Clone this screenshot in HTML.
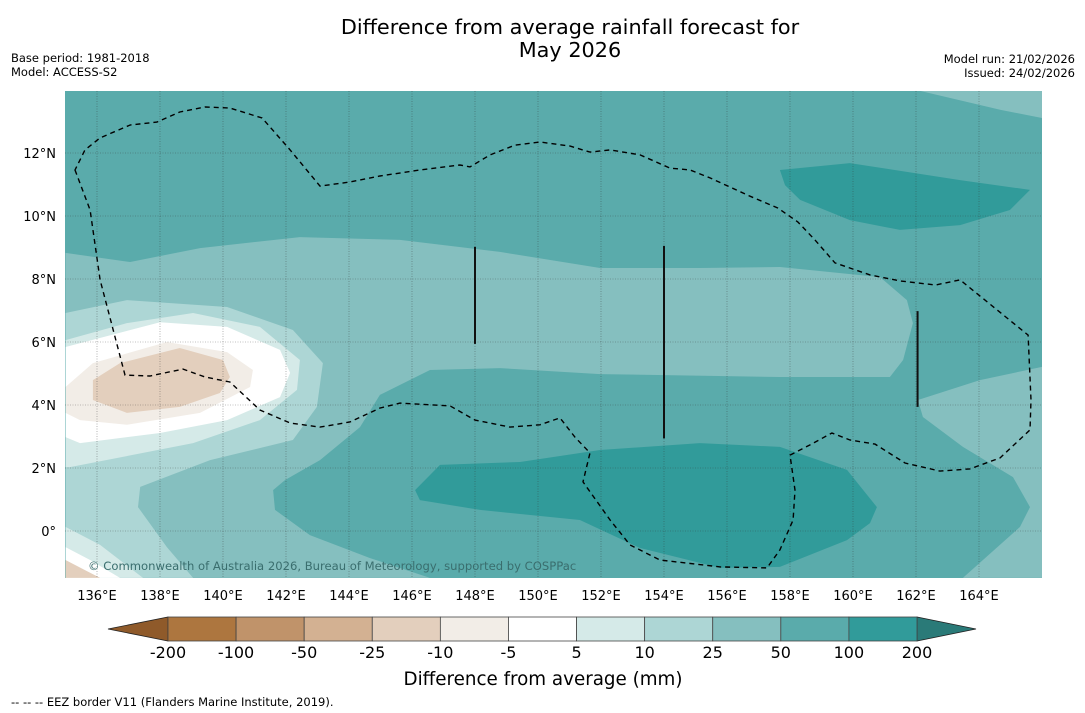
<!DOCTYPE html>
<html><head><meta charset="utf-8"><style>
body{margin:0;background:#fff;width:1085px;height:713px;overflow:hidden;font-family:"DejaVu Sans","Liberation Sans",sans-serif}
svg{display:block}
</style></head><body>
<svg id="chart" width="1085" height="713" viewBox="0 0 1085 713" xmlns="http://www.w3.org/2000/svg" font-family="DejaVu Sans, Liberation Sans, sans-serif">
<text x="570" y="34" font-size="20.8" text-anchor="middle">Difference from average rainfall forecast for</text>
<text x="570" y="57" font-size="20.8" text-anchor="middle">May 2026</text>
<text x="11" y="62" font-size="11.5">Base period: 1981-2018</text>
<text x="11" y="76" font-size="11.5">Model: ACCESS-S2</text>
<text x="1075" y="63" font-size="11.5" text-anchor="end">Model run: 21/02/2026</text>
<text x="1075" y="77" font-size="11.5" text-anchor="end">Issued: 24/02/2026</text>
<defs><clipPath id="mapclip"><rect x="65" y="91" width="977" height="487"/></clipPath></defs>
<g id="map" clip-path="url(#mapclip)"></g>
<g id="axes"></g>
<g id="cbar"></g>
<text x="543" y="685" font-size="18.3" text-anchor="middle">Difference from average (mm)</text>
<text x="11" y="706" font-size="11.5">--  --  -- EEZ border V11 (Flanders Marine Institute, 2019).</text>
</svg>
<script>
const NS="http://www.w3.org/2000/svg";
const lonTicks=[136,138,140,142,144,146,148,150,152,154,156,158,160,162,164];
const latTicks=[0,2,4,6,8,10,12];
const levelLabels=["-200","-100","-50","-25","-10","-5","5","10","25","50","100","200"];
const levelColors=["#8f5a2a","#ad763f","#c0936a","#d3b192","#e3cfbd","#f2ede7","#ffffff","#d5eae8","#add6d5","#85bfbf","#5aabab","#319b9a","#2a7a78"];
const c25_50=[[135,8.83],[137.05,8.54],[139.27,8.98],[142.44,9.33],[145.62,9.24],[148.79,8.86],[151.97,8.35],[155.14,8.35],[157.68,8.38],[160.86,8.06],[161.71,7.33],[161.9,6.6],[161.59,5.43],[161.17,4.89],[157.68,4.89],[151.97,4.98],[148.79,5.17],[146.57,5.11],[144.98,4.32],[144.35,3.3],[143.08,2.25],[141.97,1.62],[141.59,1.3],[141.65,0.67],[142.76,-0.13],[144.67,-0.86],[146.57,-1.49],[135,-1.49]];
const c25_50_ne=[[162.13,13.97],[164.67,13.37],[166,13.11],[166,13.97]];
const c25_50_se=[[162.06,4.16],[164.03,4.79],[166,5.21],[166,-1.49],[163.49,-1.49],[165.3,0.13],[165.62,0.76],[165.08,1.71],[163.49,2.67],[162.22,3.62]];
const c10_25=[[135,6.92],[136.95,7.33],[140.13,7.11],[142.22,6.38],[143.17,5.33],[142.98,3.94],[142.22,2.89],[139.59,2.25],[137.37,1.4],[137.3,0.76],[138.22,-0.51],[139.05,-1.49],[135,-1.49]];
const c5_10=[[135,6.06],[136.95,6.6],[139.05,6.92],[141.17,6.48],[142.44,5.43],[142.35,4.48],[141.17,3.52],[139.05,2.79],[137.46,2.48],[135.14,2.03],[135,2.03]];
const c5_10_sw=[[135,0.13],[136.1,-0.44],[137.46,-1.49],[135,-1.49]];
const cWhite=[[135,5.84],[138,6.63],[140.13,6.48],[141.81,5.75],[142.13,5.02],[141.81,4.25],[140.13,3.52],[138,3.11],[135.46,2.79],[135,2.98]];
const cWhite_sw=[[135,-0.51],[135.78,-0.92],[136.73,-1.49],[135,-1.49]];
const cN5_10=[[135,4.57],[135.87,5.33],[138.22,6.0],[140.13,5.68],[140.95,5.11],[140.86,4.57],[139.27,3.75],[136.95,3.37],[135.46,3.52],[135,3.75]];
const cN10_25=[[135.87,4.79],[136.73,5.33],[138.63,5.81],[140,5.43],[140.22,4.89],[139.9,4.38],[138.63,3.94],[136.95,3.75],[135.87,4.16]];
const cN10_25_sw=[[135,-0.92],[135.62,-1.24],[136.1,-1.49],[135,-1.49]];
const c100_ne=[[157.68,11.46],[159.9,11.68],[163.4,11.14],[165.62,10.83],[164.98,10.19],[163.4,9.71],[161.49,9.56],[159.9,9.87],[158.32,10.51],[157.84,10.98]];
const c100_s=[[146.1,1.3],[146.89,2.1],[149.43,2.19],[151.97,2.57],[155.14,2.79],[157.68,2.67],[159.81,1.94],[160.76,0.76],[160.54,0.25],[159.81,-0.29],[157.68,-1.14],[155.78,-1.17],[153.24,-0.54],[151.33,0.35],[148.16,0.67],[146.25,0.98]];
const eez=[[135.3,11.46],[135.78,10.19],[136.1,7.97],[136.89,4.95],[137.68,4.92],[138.73,5.14],[139.43,4.89],[140.22,4.73],[141.17,3.84],[142.13,3.43],[143.08,3.3],[144.03,3.46],[144.98,3.9],[145.62,4.06],[147.21,3.97],[148,3.52],[149.11,3.3],[150.06,3.37],[150.7,3.59],[151.17,2.98],[151.65,2.48],[151.43,1.56],[152.29,0.35],[152.92,-0.44],[153.87,-0.92],[155.78,-1.14],[157.27,-1.17],[157.68,-0.6],[158.1,0.35],[158.16,1.3],[158,2.41],[158.63,2.73],[159.33,3.11],[159.9,2.89],[160.7,2.76],[161.65,2.16],[162.76,1.9],[163.71,1.97],[164.67,2.32],[165.62,3.21],[165.65,4.16],[165.56,6.22],[164.19,7.33],[163.4,7.97],[162.62,7.81],[161.49,7.94],[160.54,8.13],[159.43,8.51],[158.79,9.24],[158.25,9.81],[157.62,10.25],[156.73,10.63],[155.46,11.21],[154.83,11.46],[154.19,11.52],[153.24,11.94],[152.29,12.1],[151.65,12.03],[151.02,12.22],[150.06,12.35],[149.27,12.25],[148.48,11.94],[147.84,11.56],[147.52,11.62],[146.25,11.46],[144.98,11.27],[144.03,11.08],[143.08,10.95],[142.13,12.1],[141.24,13.11],[140.22,13.43],[139.43,13.46],[138.63,13.3],[137.9,12.98],[137.05,12.89],[136.1,12.48],[135.62,12.1]];
const boundaryLines=[[148.0,5.94,9.02],[154.0,2.94,9.05],[162.05,3.94,6.98]];

const x=lon=>65.5+(lon-135)*31.5;
const y=lat=>531-lat*31.5;
function mk(tag,attrs,parent){const e=document.createElementNS(NS,tag);for(const k in attrs)e.setAttribute(k,attrs[k]);parent.appendChild(e);return e;}
const pts=a=>a.map(p=>x(p[0]).toFixed(1)+","+y(p[1]).toFixed(1)).join(" ");
const map=document.getElementById("map");
let bg=mk("rect",{x:65,y:91,width:977,height:487,fill:levelColors[10]},map);


const layers=[[c25_50,9,'contour-25-50'],[c25_50_ne,9,'contour-25-50-ne'],[c25_50_se,9,'contour-25-50-se'],[c10_25,8,'contour-10-25'],[c5_10,7,'contour-5-10'],[c5_10_sw,7,'contour-5-10-sw'],[cWhite,6,'contour-neutral'],[cWhite_sw,6,'contour-neutral-sw'],[cN5_10,5,'contour-minus5-10'],[cN10_25,4,'contour-minus10-25'],[cN10_25_sw,4,'contour-minus10-25-sw'],[c100_ne,11,'contour-100-200-ne'],[c100_s,11,'contour-100-200-south']];
layers.forEach(l=>{const p=mk("polygon",{points:pts(l[0]),fill:levelColors[l[1]]},map);

});
lonTicks.forEach(t=>{const g=mk("line",{x1:x(t),x2:x(t),y1:91,y2:578,stroke:"#333","stroke-width":0.6,"stroke-dasharray":"1,1.5",opacity:0.6},map);

});
latTicks.forEach(t=>{const g=mk("line",{x1:65,x2:1042,y1:y(t),y2:y(t),stroke:"#333","stroke-width":0.6,"stroke-dasharray":"1,1.5",opacity:0.6},map);

});
const ez=mk("polygon",{points:pts(eez),fill:"none",stroke:"#000","stroke-width":1.4,"stroke-dasharray":"5,4"},map);


boundaryLines.forEach(b=>{const l=mk("line",{x1:x(b[0]),x2:x(b[0]),y1:y(b[1]),y2:y(b[2]),stroke:"#111","stroke-width":2},map);

});
const at=mk("text",{x:88,y:570,"font-size":11.6,fill:"#3a6e6e"},map);
at.textContent="© Commonwealth of Australia 2026, Bureau of Meteorology, supported by COSPPac";


const axes=document.getElementById("axes");
lonTicks.forEach(t=>{const tx=mk("text",{x:x(t),y:600,"font-size":13,"text-anchor":"middle"},axes);tx.textContent=t+"°E";

});
latTicks.forEach(t=>{const tx=mk("text",{x:56,y:y(t)+5,"font-size":13,"text-anchor":"end"},axes);tx.textContent=t===0?"0°":t+"°N";

});
const cb=document.getElementById("cbar");
const cx0=168,cx1=917,cy0=617,cy1=641,n=levelLabels.length-1,bw=(cx1-cx0)/n;
const lt=mk("polygon",{points:`108,629 ${cx0},${cy0} ${cx0},${cy1}`,fill:levelColors[0],stroke:"#222","stroke-width":0.8},cb);


const rt=mk("polygon",{points:`976,629 ${cx1},${cy0} ${cx1},${cy1}`,fill:levelColors[12],stroke:"#222","stroke-width":0.8},cb);


for(let i=0;i<n;i++){const r=mk("rect",{x:cx0+i*bw,y:cy0,width:bw,height:cy1-cy0,fill:levelColors[i+1],stroke:"#444","stroke-width":0.8},cb);

}
levelLabels.forEach((s,i)=>{const tx=mk("text",{x:cx0+i*bw,y:658,"font-size":16,"text-anchor":"middle"},cb);tx.textContent=s;

});
</script>
</body></html>
